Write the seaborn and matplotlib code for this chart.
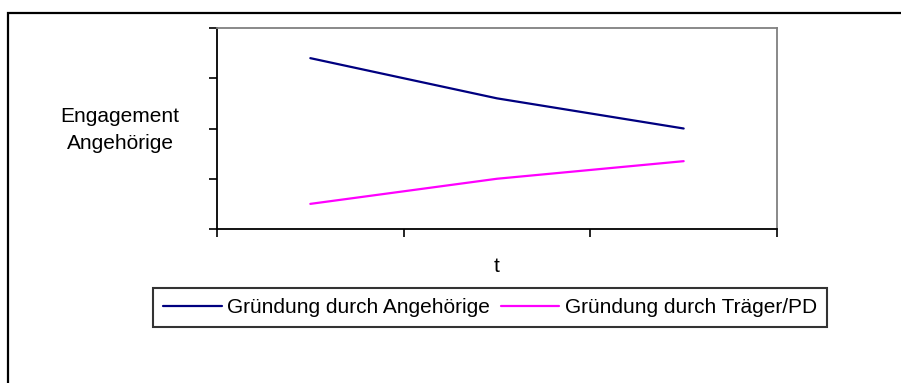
import matplotlib
matplotlib.use("Agg")
import matplotlib.pyplot as plt
import seaborn as sns
import pandas as pd
from matplotlib.patches import Rectangle

# Werte
t = [1, 2, 3]
angehoerige = [3.4, 2.6, 2.0]
traeger = [0.5, 1.0, 1.35]
series_names = ["Gründung durch Angehörige", "Gründung durch Träger/PD"]
colors = ["#000080", "#FF00FF"]

df = pd.DataFrame({
    "t": t * 2,
    "wert": angehoerige + traeger,
    "serie": [series_names[0]] * 3 + [series_names[1]] * 3,
})

sns.set_style("white")
plt.rcParams["font.family"] = ["Liberation Sans", "DejaVu Sans"]
plt.rcParams["text.color"] = "black"

W, H = 901, 383
fig = plt.figure(figsize=(W / 100, H / 100), dpi=100)
ax = fig.add_axes([217 / W, 1 - 229 / H, (777 - 217) / W, (229 - 28) / H])

sns.lineplot(data=df, x="t", y="wert", hue="serie", palette=colors,
             linewidth=1.6, ax=ax, legend=False)

ax.set_xlim(0.5, 3.5)
ax.set_ylim(0, 4)
ax.set_xticks([0.5, 1.5, 2.5, 3.5])
ax.set_yticks([0, 1, 2, 3, 4])
ax.set_xticklabels([])
ax.set_yticklabels([])
ax.tick_params(axis="both", direction="out", length=6, width=1.2,
               color="black", bottom=True, left=True)
ax.set_xlabel("")
ax.set_ylabel("")

for side in ["left", "bottom"]:
    ax.spines[side].set_color("black")
    ax.spines[side].set_linewidth(1.3)
for side in ["top", "right"]:
    ax.spines[side].set_visible(True)
    ax.spines[side].set_color("#808080")
    ax.spines[side].set_linewidth(1.3)

fs = 15
fig.text(120 / W, 1 - 130 / H, "Engagement\nAngehörige", ha="center",
         va="center", fontsize=fs, linespacing=1.55, color="black")
fig.text(497 / W, 1 - 267 / H, "t", ha="center", va="center", fontsize=fs,
         color="black")

handles = [plt.Line2D([], [], color=c, linewidth=1.6) for c in colors]
leg = fig.legend(handles, series_names, loc="center", ncol=2,
                 bbox_to_anchor=(490 / W, 1 - 307.5 / H), fontsize=fs,
                 frameon=True, fancybox=False, edgecolor="black",
                 handlelength=2.8, handletextpad=0.25, columnspacing=0.55,
                 borderpad=0.5, labelcolor="black")
leg.get_frame().set_linewidth(1.5)

# äußerer Rahmen (rechts und unten abgeschnitten)
fig.patches.append(Rectangle((8 / W, -0.1), 1.2, 1 - 13 / H + 0.1,
                             transform=fig.transFigure, fill=False,
                             edgecolor="black", linewidth=1.6))

fig.savefig("out.png", dpi=100)
